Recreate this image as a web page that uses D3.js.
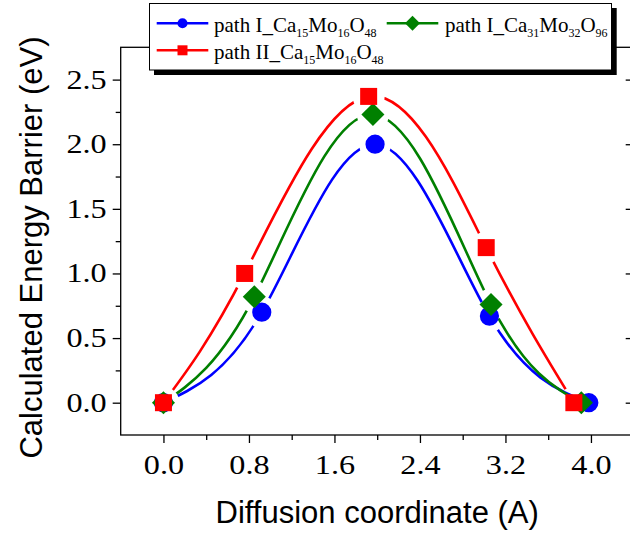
<!DOCTYPE html>
<html>
<head>
<meta charset="utf-8">
<script src="https://cdn.jsdelivr.net/npm/d3@7"></script>
<style>
  html, body { margin: 0; padding: 0; background: #fff; }
  svg { display: block; }
</style>
</head>
<body>
<svg id="chart" width="630" height="534"></svg>
<script>
// Energy barrier along the diffusion path for three Ca migration paths
const coordBlue  = [0, 0.92, 1.98, 3.05, 3.98];
const energyBlue = [0, 0.70, 2.00, 0.67, 0];
const coordGreen  = [0, 0.85, 1.96, 3.065, 3.91];
const energyGreen = [0, 0.82, 2.23, 0.76, 0];
const coordRed  = [0, 0.76, 1.92, 3.02, 3.84];
const energyRed = [0, 1.00, 2.37, 1.20, 0];

// legend labels, split into normal / subscript parts
const labelBlue  = ["path I_Ca", "15", "Mo", "16", "O", "48"];
const labelGreen = ["path I_Ca", "31", "Mo", "32", "O", "96"];
const labelRed   = ["path II_Ca", "15", "Mo", "16", "O", "48"];

const xTicks = [0, 0.8, 1.6, 2.4, 3.2, 4.0];
const xMinor = [0.4, 1.2, 2.0, 2.8, 3.6];
const yTicks = [0, 0.5, 1.0, 1.5, 2.0, 2.5];
const yMinor = [0.25, 0.75, 1.25, 1.75, 2.25];

const series = [
  { x: coordBlue,  y: energyBlue,  color: "#0000ff", shape: "circle",  label: labelBlue },
  { x: coordGreen, y: energyGreen, color: "#008000", shape: "diamond", label: labelGreen },
  { x: coordRed,   y: energyRed,   color: "#ff0000", shape: "square",  label: labelRed }
];

const W = 630, H = 534;
const svg = d3.select("#chart");
const x = d3.scaleLinear([-0.4, 4.4], [120.7, 633.7]);
const y = d3.scaleLinear([-0.25, 2.75], [435, 47.3]);

function symbolFor(shape, big) {
  if (shape === "circle") return d3.symbol(d3.symbolCircle, big ? 290 : 80)();
  if (shape === "square") return d3.symbol(d3.symbolSquare, big ? 289 : 100)();
  return d3.symbol(d3.symbolSquare, big ? 266 : 112)();
}
function symbolRot(shape) { return shape === "diamond" ? " rotate(45)" : ""; }

const defs = svg.append("defs");

// each line is cut open around its own markers
series.forEach((s, i) => {
  const m = defs.append("mask").attr("id", "gap" + i)
    .attr("maskUnits", "userSpaceOnUse")
    .attr("x", 0).attr("y", 0).attr("width", W).attr("height", H);
  m.append("rect").attr("width", W).attr("height", H).attr("fill", "#fff");
  s.x.forEach((v, j) => {
    m.append("circle").attr("cx", x(v)).attr("cy", y(s.y[j])).attr("r", 16).attr("fill", "#000");
  });
});

// axes
const fontSerif = "'Liberation Serif', 'Times New Roman', serif";
const fontSans = "'Liberation Sans', Arial, sans-serif";

const gx = svg.append("g").attr("transform", `translate(0,${y.range()[0]})`)
  .call(d3.axisBottom(x).tickValues(xTicks).tickFormat(d3.format(".1f")).tickSize(8).tickPadding(11));
const gxm = svg.append("g").attr("transform", `translate(0,${y.range()[0]})`)
  .call(d3.axisBottom(x).tickValues(xMinor).tickFormat("").tickSize(5));
const gy = svg.append("g").attr("transform", `translate(${x.range()[0]},0)`)
  .call(d3.axisLeft(y).tickValues(yTicks).tickFormat(d3.format(".1f")).tickSize(8).tickPadding(6));
const gym = svg.append("g").attr("transform", `translate(${x.range()[0]},0)`)
  .call(d3.axisLeft(y).tickValues(yMinor).tickFormat("").tickSize(5));
const gyr = svg.append("g").attr("transform", `translate(${x.range()[1]},0)`)
  .call(d3.axisLeft(y).tickValues(yTicks).tickFormat("").tickSize(8));

[gx, gxm, gy, gym, gyr].forEach(g => {
  g.select(".domain").remove();
  g.selectAll(".tick line").attr("stroke", "#000").attr("stroke-width", 1.3);
});
// right-hand ticks point into the frame
gyr.selectAll(".tick line").attr("x2", -8);

[gx, gy].forEach(g => {
  g.selectAll(".tick text")
    .attr("font-family", fontSerif).attr("font-size", 28).attr("fill", "#000")
    .each(function () {
      const len = this.getComputedTextLength();
      d3.select(this).attr("textLength", len * 1.15).attr("lengthAdjust", "spacingAndGlyphs");
    });
});
gy.selectAll(".tick text").attr("dy", "0.3em");

// frame
svg.append("rect")
  .attr("x", x.range()[0]).attr("y", y.range()[1])
  .attr("width", x.range()[1] - x.range()[0]).attr("height", y.range()[0] - y.range()[1])
  .attr("fill", "none").attr("stroke", "#000").attr("stroke-width", 1.3);

// curves
const line = d3.line().curve(d3.curveNatural);
series.forEach((s, i) => {
  svg.append("path")
    .attr("d", line(s.x.map((v, j) => [x(v), y(s.y[j])])))
    .attr("fill", "none").attr("stroke", s.color).attr("stroke-width", 2.6)
    .attr("mask", `url(#gap${i})`);
});

// markers
series.forEach(s => {
  svg.append("g").selectAll("path").data(s.x).join("path")
    .attr("d", symbolFor(s.shape, true))
    .attr("transform", (v, j) => `translate(${x(v)},${y(s.y[j])})${symbolRot(s.shape)}`)
    .attr("fill", s.color);
});

// axis titles
svg.append("text")
  .attr("x", (x.range()[0] + x.range()[1]) / 2).attr("y", 523)
  .attr("text-anchor", "middle")
  .attr("font-family", fontSans).attr("font-size", 31).attr("fill", "#000")
  .text("Diffusion coordinate (A)");
svg.append("text")
  .attr("transform", "translate(41.5,247.5) rotate(-90)")
  .attr("text-anchor", "middle")
  .attr("font-family", fontSans).attr("font-size", 31).attr("fill", "#000")
  .text("Calculated Energy Barrier (eV)");

// legend box with drop shadow
const lg = svg.append("g");
lg.append("rect").attr("x", 154).attr("y", 8).attr("width", 462.7).attr("height", 67).attr("fill", "#000");
lg.append("rect").attr("x", 149.5).attr("y", 3.5).attr("width", 462).attr("height", 66.5)
  .attr("fill", "#fff").attr("stroke", "#000").attr("stroke-width", 1);

const legendPos = [
  { lx: 156.7, ty: 32.3, cy: 23.3, tx: 214 },
  { lx: 386.7, ty: 32.3, cy: 23.3, tx: 445 },
  { lx: 156.7, ty: 59.3, cy: 50.3, tx: 214 }
];
series.forEach((s, i) => {
  const p = legendPos[i];
  lg.append("line").attr("x1", p.lx).attr("x2", p.lx + 51.6).attr("y1", p.cy).attr("y2", p.cy)
    .attr("stroke", s.color).attr("stroke-width", 2.6);
  lg.append("path").attr("d", symbolFor(s.shape, false))
    .attr("transform", `translate(${p.lx + 25.8},${p.cy})${symbolRot(s.shape)}`)
    .attr("fill", s.color);
  const t = lg.append("text").attr("x", p.tx).attr("y", p.ty)
    .attr("font-family", fontSerif).attr("font-size", 21).attr("fill", "#000");
  s.label.forEach((part, k) => {
    const sub = k % 2 === 1;
    t.append("tspan")
      .attr("font-size", sub ? 12 : 21)
      .attr("dy", k === 0 ? 0 : (sub ? 5 : -5))
      .text(part);
  });
});
</script>
</body>
</html>
